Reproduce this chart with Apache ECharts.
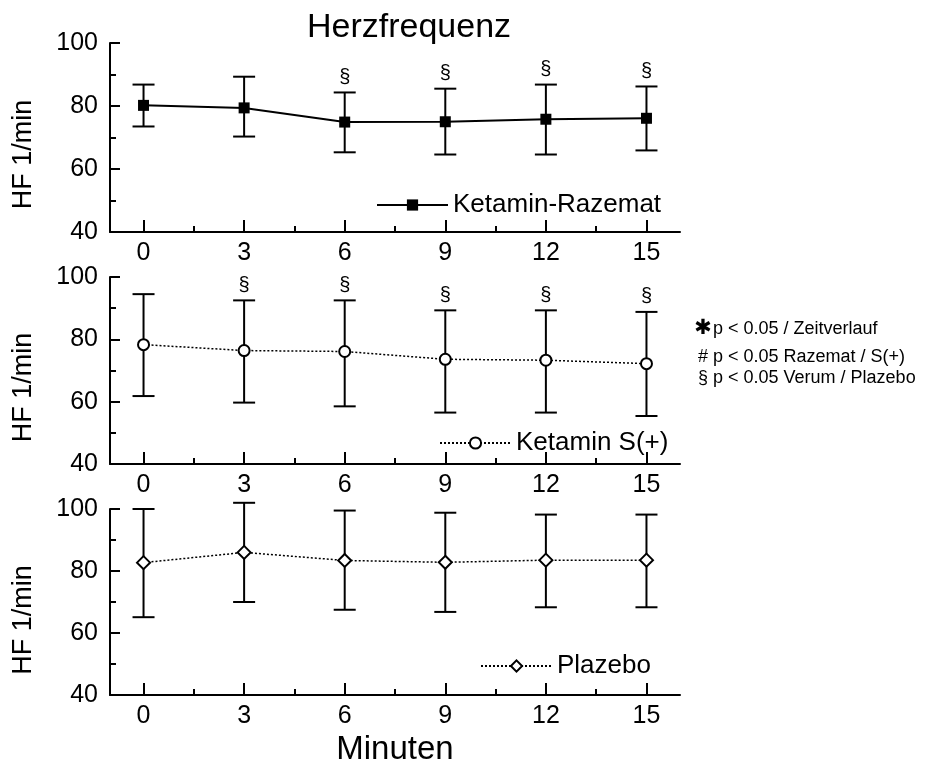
<!DOCTYPE html>
<html>
<head>
<meta charset="utf-8">
<script src="https://cdn.jsdelivr.net/npm/echarts@6/dist/echarts.min.js"></script>
<style>
  html, body { margin: 0; padding: 0; background: #fff; }
  #chart { width: 932px; height: 767px; }
</style>
</head>
<body>
<div id="chart"></div>
<script>
// Zeitpunkte (Minuten) und Achsenbeschriftung
const minutes = [0, 3, 6, 9, 12, 15];
const xTickLabels = [0, 3, 6, 9, 12, 15];
const xMinorTicks = [1.5, 4.5, 7.5, 10.5, 13.5];

// Ketamin-Razemat: Mittelwert, obere / untere Fehlergrenze, § Signifikanz
const razematMean = [80.2, 79.4, 74.9, 75.0, 75.8, 76.1];
const razematHigh = [86.8, 89.3, 84.3, 85.5, 86.8, 86.2];
const razematLow = [73.5, 70.3, 65.3, 64.6, 64.6, 65.9];
const razematSig = [0, 0, 1, 1, 1, 1];

// Ketamin S(+)
const sPlusMean = [78.3, 76.4, 76.1, 73.6, 73.3, 72.2];
const sPlusHigh = [94.5, 92.5, 92.5, 89.3, 89.3, 88.8];
const sPlusLow = [61.8, 59.7, 58.5, 56.5, 56.5, 55.4];
const sPlusSig = [0, 1, 1, 1, 1, 1];

// Plazebo
const plazeboMean = [82.7, 86.0, 83.4, 82.8, 83.5, 83.5];
const plazeboHigh = [100.0, 102.0, 99.5, 98.8, 98.2, 98.2];
const plazeboLow = [65.1, 70.0, 67.5, 66.8, 68.3, 68.3];
const plazeboSig = [0, 0, 0, 0, 0, 0];

const groupNames = ['Ketamin-Razemat', 'Ketamin S(+)', 'Plazebo'];
const noteLines = ['p < 0.05 / Zeitverlauf', '# p < 0.05 Razemat / S(+)', '§ p < 0.05 Verum / Plazebo'];

const FONT = '"Liberation Sans", Arial, Helvetica, sans-serif';
const BLACK = '#000';

const chart = echarts.init(document.getElementById('chart'), null, { renderer: 'canvas' });

const panels = [
  { top: 43, height: 189, mean: razematMean, high: razematHigh, low: razematLow, sig: razematSig,
    symbol: 'rect', symbolSize: 11, fill: BLACK, line: { color: BLACK, width: 2, type: 'solid' },
    legendLeft: 376, legendTop: 192 },
  { top: 277, height: 187, mean: sPlusMean, high: sPlusHigh, low: sPlusLow, sig: sPlusSig,
    symbol: 'circle', symbolSize: 11, fill: '#fff', line: { color: BLACK, width: 1.5, type: [2, 2] },
    legendLeft: 439, legendTop: 430 },
  { top: 509, height: 188, mean: plazeboMean, high: plazeboHigh, low: plazeboLow, sig: plazeboSig,
    symbol: 'diamond', symbolSize: 13, fill: '#fff', line: { color: BLACK, width: 1.5, type: [2, 2] },
    legendLeft: 480, legendTop: 653 }
];

function renderErrorBar(params, api) {
  const x = api.value(0);
  const lo = api.coord([x, api.value(1)]);
  const hi = api.coord([x, api.value(2)]);
  const half = 11;
  const style = { stroke: BLACK, lineWidth: 2 };
  const children = [
    { type: 'line', shape: { x1: lo[0], y1: lo[1], x2: hi[0], y2: hi[1] }, style: style },
    { type: 'line', shape: { x1: lo[0] - half, y1: lo[1], x2: lo[0] + half, y2: lo[1] }, style: style },
    { type: 'line', shape: { x1: hi[0] - half, y1: hi[1], x2: hi[0] + half, y2: hi[1] }, style: style }
  ];
  if (api.value(3)) {
    children.push({
      type: 'text', x: hi[0], y: hi[1] - 15,
      style: { text: '§', fontSize: 20, fontFamily: FONT, fill: BLACK, align: 'center', verticalAlign: 'middle' }
    });
  }
  return { type: 'group', children: children };
}

const grids = [];
const xAxes = [];
const yAxes = [];
const series = [];
const legends = [];
const graphics = [];

panels.forEach((p, i) => {
  grids.push({ left: 110, width: 570, top: p.top, height: p.height });

  // Hauptstriche + Beschriftung
  xAxes.push({
    gridIndex: i, type: 'value', min: -1, max: 16,
    axisLine: { show: true, onZero: false, lineStyle: { color: BLACK, width: 2 } },
    axisTick: { show: true, inside: true, length: 12, customValues: xTickLabels, lineStyle: { color: BLACK, width: 2 } },
    axisLabel: { customValues: xTickLabels, fontSize: 25, fontFamily: FONT, color: BLACK, margin: 9 },
    splitLine: { show: false },
    name: i === 2 ? 'Minuten' : '',
    nameLocation: 'middle', nameGap: 38,
    nameTextStyle: { fontSize: 33, fontFamily: FONT, color: BLACK }
  });
  // Zwischenstriche
  xAxes.push({
    gridIndex: i, type: 'value', min: -1, max: 16, position: 'bottom',
    axisLine: { show: false },
    axisTick: { show: true, inside: true, length: 6, customValues: xMinorTicks, lineStyle: { color: BLACK, width: 2 } },
    axisLabel: { show: false },
    splitLine: { show: false }
  });

  yAxes.push({
    gridIndex: i, type: 'value', min: 40, max: 100, interval: 20,
    axisLine: { show: true, onZero: false, lineStyle: { color: BLACK, width: 2 } },
    axisTick: { show: true, inside: true, length: 10, lineStyle: { color: BLACK, width: 2 } },
    minorTick: { show: true, splitNumber: 2, length: 6, lineStyle: { color: BLACK, width: 2 } },
    axisLabel: { fontSize: 25, fontFamily: FONT, color: BLACK, margin: 12 },
    splitLine: { show: false }
  });

  series.push({
    type: 'custom', name: groupNames[i] + ' SD',
    xAxisIndex: i * 2, yAxisIndex: i,
    renderItem: renderErrorBar,
    encode: { x: 0, y: [1, 2] },
    data: minutes.map((m, k) => [m, p.low[k], p.high[k], p.sig[k]]),
    z: 2, silent: true
  });

  series.push({
    type: 'line', name: groupNames[i],
    xAxisIndex: i * 2, yAxisIndex: i,
    data: minutes.map((m, k) => [m, p.mean[k]]),
    symbol: p.symbol, symbolSize: p.symbolSize, showAllSymbol: true,
    itemStyle: { color: p.fill, borderColor: BLACK, borderWidth: p.fill === BLACK ? 0 : 2 },
    lineStyle: p.line,
    z: 3, animation: false
  });

  legends.push({
    data: [groupNames[i]], left: p.legendLeft, top: p.legendTop, padding: 0,
    itemWidth: 71, itemHeight: 14, itemGap: 0, selectedMode: false,
    textStyle: { fontSize: 26, fontFamily: FONT, color: BLACK }
  });

  graphics.push({
    type: 'text', x: 24, y: p.top + p.height / 2 + 17, rotation: Math.PI / 2,
    style: { text: 'HF 1/min', fontSize: 27, fontFamily: FONT, fill: BLACK, align: 'center', verticalAlign: 'middle' }
  });
});

// Legende der Signifikanzzeichen rechts
graphics.push({
  type: 'text', x: 703, y: 329,
  style: { text: '✱', fontSize: 21, fontFamily: '"DejaVu Sans", sans-serif', fill: BLACK, align: 'center', verticalAlign: 'middle' }
});
const noteX = [713, 698, 698];
const noteY = [329, 357, 378];
noteLines.forEach((t, k) => {
  graphics.push({
    type: 'text', x: noteX[k], y: noteY[k],
    style: { text: t, fontSize: 18, fontFamily: FONT, fill: BLACK, align: 'left', verticalAlign: 'middle' }
  });
});

chart.setOption({
  animation: false,
  backgroundColor: '#fff',
  title: {
    text: 'Herzfrequenz', left: 404, top: 6, textAlign: 'center',
    textStyle: { fontSize: 34, fontWeight: 'normal', fontFamily: FONT, color: BLACK }
  },
  grid: grids,
  xAxis: xAxes,
  yAxis: yAxes,
  legend: legends,
  series: series,
  graphic: graphics
});
</script>
</body>
</html>
